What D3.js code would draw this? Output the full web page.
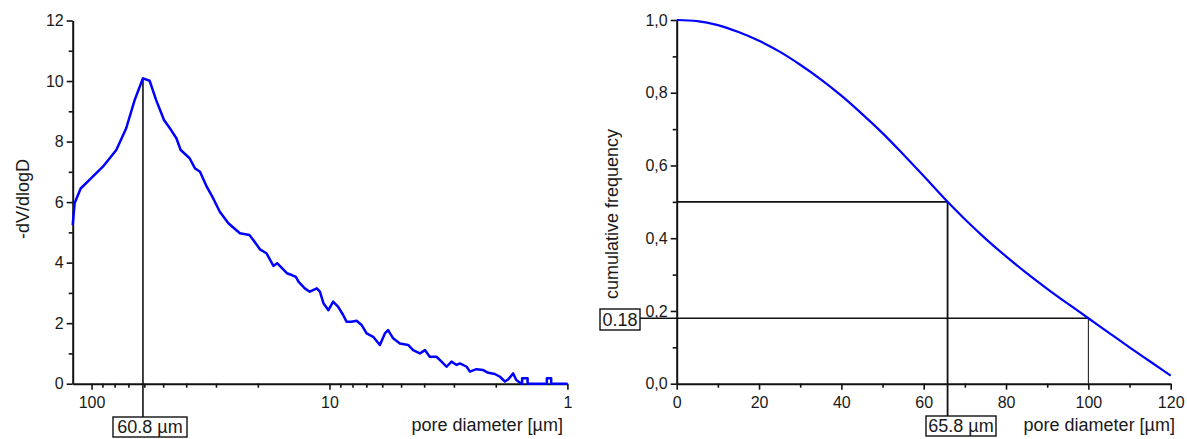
<!DOCTYPE html>
<html><head><meta charset="utf-8">
<script src="https://cdn.jsdelivr.net/npm/d3@7"></script>
<style>
html,body{margin:0;padding:0;background:#fff;}
svg text{font-family:"Liberation Sans",Arial,sans-serif;fill:#1a1a1a;}
</style></head><body>
<svg id="c" width="1187" height="439"></svg>
<script>
// ---- Left chart data: pore size distribution ----
const poreDiameter = [120,117.8,111.1,100.3,89.6,78.7,71.5,65.9,60.8,57.0,53.5,49.6,46.3,44.0,42.2,38.7,36.8,35.0,32.8,30.8,28.9,26.6,23.8,21.7,20.9,19.6,18.4,17.2,16.6,15.1,14.4,13.84,13.5,12.7,12.1,11.3,10.97,10.6,10.1,9.65,9.19,8.76,8.48,8.08,7.69,7.33,6.98,6.55,6.14,5.85,5.67,5.40,5.06,4.67,4.45,4.17,3.97,3.79,3.55,3.38,3.22,3.07,2.92,2.83,2.65,2.57,2.41,2.26,2.15,2.02,1.92,1.83,1.77,1.69,1.64,1.56,1.55,1.55,1.47,1.47,1.22,1.22,1.17,1.17,1.0];
const dVdlogD = [5.24,5.96,6.45,6.79,7.17,7.72,8.44,9.37,10.09,10.01,9.37,8.71,8.38,8.11,7.72,7.45,7.12,7.00,6.51,6.12,5.68,5.30,4.97,4.91,4.75,4.44,4.31,3.89,3.98,3.65,3.59,3.53,3.37,3.15,3.04,3.15,3.04,2.66,2.43,2.71,2.54,2.27,2.05,2.05,2.08,1.94,1.66,1.55,1.28,1.66,1.77,1.50,1.33,1.28,1.11,1.00,1.11,0.89,0.89,0.73,0.56,0.73,0.62,0.67,0.56,0.40,0.48,0.45,0.36,0.32,0.23,0.07,0.15,0.34,0.12,0,0,0.18,0.18,0,0,0.18,0.18,0,0];
const leftXMajor = [100,10,1];
const leftXMinor = [90,80,70,60,50,40,30,20,9,8,7,6,5,4,3,2];
const leftYMajor = [0,2,4,6,8,10,12];
const leftYMinor = [1,3,5,7,9,11];
const peakDiameter = 60.8;
const peakValue = 10.09;

// ---- Right chart data: cumulative frequency ----
const cumDiameter = [0,5,10,15,20,25,30,35,40,45,50,55,60,65.8,70,75,80,85,90,95,100,105,110,115,120];
const cumFrequency = [1.0,0.997,0.986,0.967,0.943,0.913,0.877,0.837,0.792,0.742,0.689,0.631,0.571,0.5,0.452,0.399,0.350,0.304,0.261,0.220,0.18,0.140,0.100,0.061,0.022];
const rightXMajor = [0,20,40,60,80,100,120];
const rightXMinor = [10,30,50,70,90,110];
const rightYMajor = [0,0.2,0.4,0.6,0.8,1.0];
const rightYMinor = [0.1,0.3,0.5,0.7,0.9];
const medianDiameter = 65.8, medianFreq = 0.5;
const markDiameter = 100, markFreq = 0.18;

const svg = d3.select("#c");
const INK = "#111";

function styleAxis(g, w){
  g.selectAll("path.domain").attr("stroke", INK).attr("stroke-width", w);
  g.selectAll(".tick line").attr("stroke", INK).attr("stroke-width", 1.6);
  g.selectAll("text").attr("font-size", 16).attr("fill", "#1a1a1a")
   .attr("font-family", '"Liberation Sans",Arial,sans-serif');
}

// ================= LEFT =================
const xL = d3.scaleLog().domain([120, 1]).range([72.7, 567.4]);
const yL = d3.scaleLinear().domain([0, 12]).range([383.7, 20.5]);

const gL = svg.append("g");
gL.append("g").attr("transform", `translate(0,${yL(0)})`)
  .call(d3.axisBottom(xL).tickValues(leftXMinor).tickFormat("").tickSize(4).tickSizeOuter(0))
  .call(g => { styleAxis(g, 2); g.select(".domain").remove(); });
gL.append("g").attr("transform", `translate(${xL(120)},0)`)
  .call(d3.axisLeft(yL).tickValues(leftYMinor).tickFormat("").tickSize(4).tickSizeOuter(0))
  .call(g => { styleAxis(g, 2); g.select(".domain").remove(); });
gL.append("g").attr("transform", `translate(0,${yL(0)})`)
  .call(d3.axisBottom(xL).tickValues(leftXMajor).tickFormat(d3.format("d")).tickSize(6).tickPadding(7).tickSizeOuter(0))
  .call(g => styleAxis(g, 2));
gL.append("g").attr("transform", `translate(${xL(120)},0)`)
  .call(d3.axisLeft(yL).tickValues(leftYMajor).tickFormat(d3.format("d")).tickSize(6).tickPadding(3).tickSizeOuter(0))
  .call(g => styleAxis(g, 2));

gL.append("line")
  .attr("x1", xL(peakDiameter)).attr("x2", xL(peakDiameter))
  .attr("y1", yL(peakValue)).attr("y2", 417)
  .attr("stroke", INK).attr("stroke-width", 1.6);

const leftPts = poreDiameter.map((d, i) => [d, dVdlogD[i]]);
gL.append("path").datum(leftPts)
  .attr("fill", "none").attr("stroke", "#0000ff").attr("stroke-width", 2.5)
  .attr("stroke-linejoin", "round")
  .attr("d", d3.line().x(d => xL(d[0])).y(d => yL(d[1])));

function boxLabel(g, cx, top, w, h, txt){
  g.append("rect").attr("x", cx - w/2).attr("y", top).attr("width", w).attr("height", h)
    .attr("fill", "#fff").attr("stroke", INK).attr("stroke-width", 1.4);
  g.append("text").attr("x", cx).attr("y", top + h - 4.5).attr("text-anchor", "middle")
    .attr("font-size", 18).text(txt);
}
boxLabel(gL, 150, 417, 74, 20, peakDiameter + " µm");

gL.append("text").attr("x", 563).attr("y", 431).attr("text-anchor", "end")
  .attr("font-size", 18).text("pore diameter [µm]");
gL.append("text").attr("transform", "translate(29,199) rotate(-90)")
  .attr("text-anchor", "middle").attr("font-size", 18).text("-dV/dlogD");

// ================= RIGHT =================
const xR = d3.scaleLinear().domain([0, 120]).range([676.7, 1170.7]);
const yR = d3.scaleLinear().domain([0, 1]).range([383.7, 20]);
const gR = svg.append("g");
const commaFmt = d => d3.format(".1f")(d).replace(".", ",");

gR.append("line").attr("x1", xR(0)).attr("x2", xR(medianDiameter))
  .attr("y1", yR(medianFreq)).attr("y2", yR(medianFreq)).attr("stroke", INK).attr("stroke-width", 1.8);
gR.append("line").attr("x1", xR(medianDiameter)).attr("x2", xR(medianDiameter))
  .attr("y1", yR(medianFreq)).attr("y2", 416).attr("stroke", INK).attr("stroke-width", 1.8);
gR.append("line").attr("x1", 640).attr("x2", xR(markDiameter))
  .attr("y1", yR(markFreq)).attr("y2", yR(markFreq)).attr("stroke", INK).attr("stroke-width", 1.5);
gR.append("line").attr("x1", xR(markDiameter)).attr("x2", xR(markDiameter))
  .attr("y1", yR(markFreq)).attr("y2", yR(0)).attr("stroke", INK).attr("stroke-width", 1);

gR.append("g").attr("transform", `translate(0,${yR(0)})`)
  .call(d3.axisBottom(xR).tickValues(rightXMinor).tickFormat("").tickSize(4).tickSizeOuter(0))
  .call(g => { styleAxis(g, 2); g.select(".domain").remove(); });
gR.append("g").attr("transform", `translate(${xR(0)},0)`)
  .call(d3.axisLeft(yR).tickValues(rightYMinor).tickFormat("").tickSize(4).tickSizeOuter(0))
  .call(g => { styleAxis(g, 2); g.select(".domain").remove(); });
gR.append("g").attr("transform", `translate(0,${yR(0)})`)
  .call(d3.axisBottom(xR).tickValues(rightXMajor).tickFormat(d3.format("d")).tickSize(6).tickPadding(7).tickSizeOuter(0))
  .call(g => styleAxis(g, 2));
gR.append("g").attr("transform", `translate(${xR(0)},0)`)
  .call(d3.axisLeft(yR).tickValues(rightYMajor).tickFormat(commaFmt).tickSize(6).tickPadding(3).tickSizeOuter(0))
  .call(g => styleAxis(g, 2));

const rightPts = cumDiameter.map((d, i) => [d, cumFrequency[i]]);
gR.append("path").datum(rightPts)
  .attr("fill", "none").attr("stroke", "#0000ff").attr("stroke-width", 2.2)
  .attr("d", d3.line().curve(d3.curveMonotoneX).x(d => xR(d[0])).y(d => yR(d[1])));

boxLabel(gR, 961, 416, 70, 20, medianDiameter + " µm");
boxLabel(gR, 620, 309, 40, 21, String(markFreq));

gR.append("text").attr("x", 1175).attr("y", 431).attr("text-anchor", "end")
  .attr("font-size", 18).text("pore diameter [µm]");
gR.append("text").attr("transform", "translate(618,214) rotate(-90)")
  .attr("text-anchor", "middle").attr("font-size", 18).text("cumulative frequency");
</script>
</body></html>
